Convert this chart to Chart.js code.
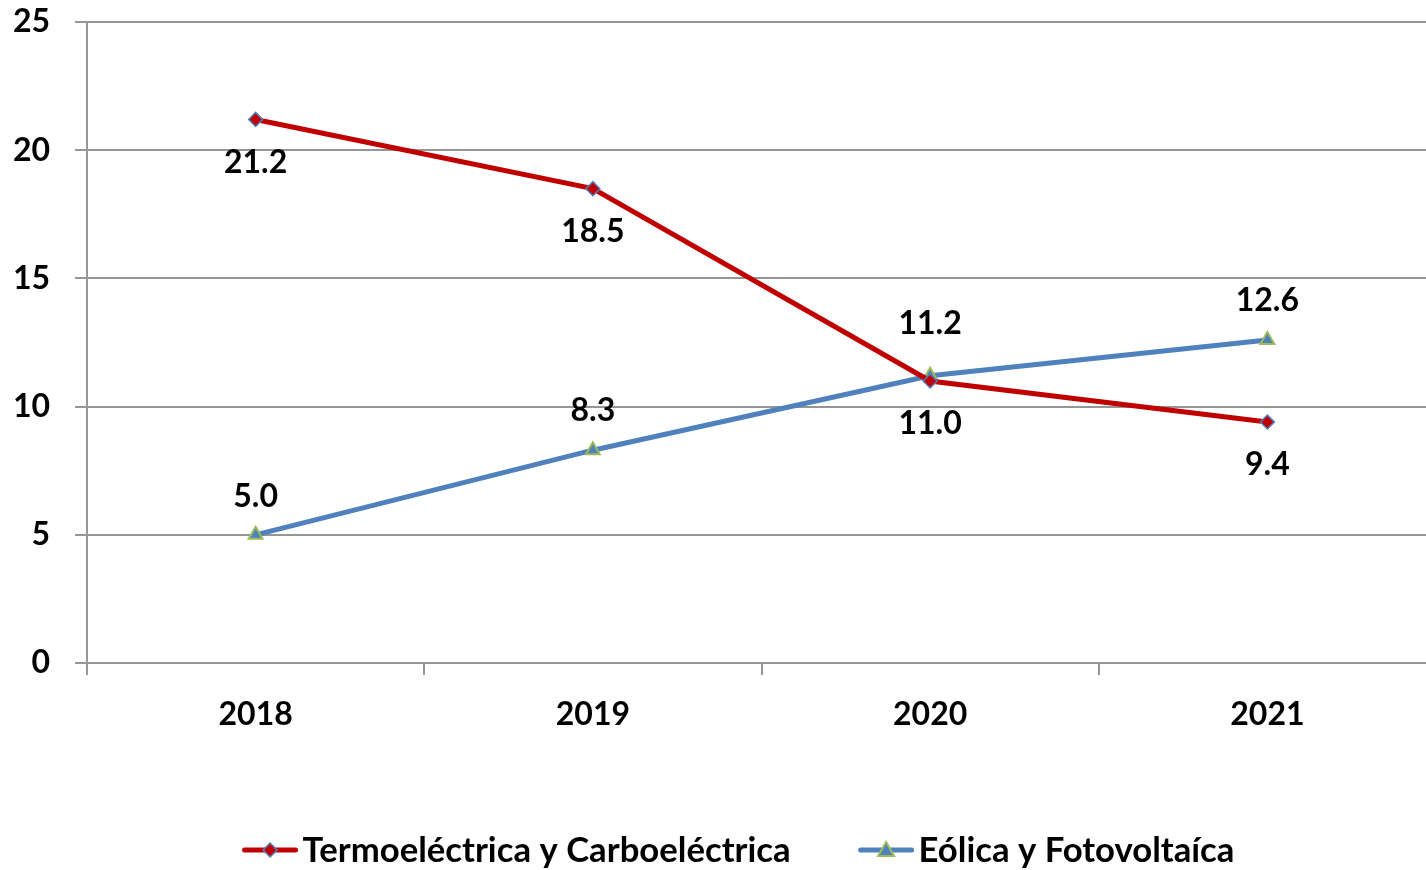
<!DOCTYPE html>
<html lang="es">
<head>
<meta charset="UTF-8">
<title>Generación eléctrica</title>
<script src="https://cdn.jsdelivr.net/npm/chart.js"></script>
<style>
    html, body { margin: 0; padding: 0; background: #fff; overflow: hidden; }
    .wrap { width: 1446px; height: 870px; }
</style>
</head>
<body>
<div class="wrap"><canvas id="chart" width="1446" height="870" style="width:1446px;height:870px"></canvas></div>
<script>
    const years = ['2018', '2019', '2020', '2021'];
    const termo = [21.2, 18.5, 11.0, 9.4];
    const eolica = [5.0, 8.3, 11.2, 12.6];
    const yTicks = [0, 5, 10, 15, 20, 25];

    const RED = '#C00000';
    const BLUE = '#4F81BD';
    const GREEN = '#9BBB59';
    const GRID = '#969696';
    const FONT = 'Lato, "Open Sans", sans-serif';

    function drawMarker(g, style, x, y, r, fill, stroke, lw) {
        g.save();
        g.fillStyle = fill;
        g.strokeStyle = stroke;
        g.lineWidth = lw;
        g.beginPath();
        if (style === 'rectRot') {
            g.moveTo(x, y - r); g.lineTo(x + r, y); g.lineTo(x, y + r); g.lineTo(x - r, y);
        } else {
            g.moveTo(x, y - r); g.lineTo(x + r, y + r * 0.75); g.lineTo(x - r, y + r * 0.75);
        }
        g.closePath(); g.fill(); g.stroke();
        g.restore();
    }

    // numbers next to each point
    const valueLabels = {
        id: 'valueLabels',
        afterDatasetsDraw(chart, args, opts) {
            const ctx = chart.ctx;
            ctx.save();
            ctx.font = 'bold 32px ' + FONT;
            ctx.fillStyle = '#000';
            ctx.textAlign = 'center';
            ctx.textBaseline = 'middle';
            chart.data.datasets.forEach((ds, i) => {
                const meta = chart.getDatasetMeta(i);
                meta.data.forEach((pt, j) => {
                    ctx.fillText(ds.data[j].toFixed(1), pt.x, pt.y + opts.offsets[i][j]);
                });
            });
            ctx.restore();
        }
    };

    // legend: line with the marker in the middle, then the label
    const lineLegend = {
        id: 'lineLegend',
        afterDraw(chart, args, opts) {
            const ctx = chart.ctx;
            ctx.save();
            ctx.font = 'bold 34.7px ' + FONT;
            ctx.textBaseline = 'middle';
            ctx.textAlign = 'left';
            const dsets = chart.data.datasets;
            const widths = dsets.map(ds => opts.lineLen + opts.textGap + ctx.measureText(ds.label).width);
            const total = widths.reduce((a, b) => a + b, 0) + opts.itemGap * (dsets.length - 1);
            let x = opts.centerX - total / 2;
            const y = opts.y;
            dsets.forEach((ds, i) => {
                ctx.strokeStyle = ds.borderColor;
                ctx.lineWidth = 5;
                ctx.lineCap = 'round';
                ctx.beginPath(); ctx.moveTo(x + 2, y); ctx.lineTo(x + opts.lineLen - 2, y); ctx.stroke();
                drawMarker(ctx, ds.pointStyle, x + opts.lineLen / 2, y, ds.pointRadius,
                    ds.pointBackgroundColor, ds.pointBorderColor, ds.pointBorderWidth);
                ctx.fillStyle = '#000';
                ctx.fillText(ds.label, x + opts.lineLen + opts.textGap, y + 1);
                x += widths[i] + opts.itemGap;
            });
            ctx.restore();
        }
    };

    new Chart(document.getElementById('chart'), {
        type: 'line',
        data: {
            labels: years,
            datasets: [
                {
                    label: 'Termoeléctrica y Carboeléctrica',
                    data: termo,
                    borderColor: RED,
                    backgroundColor: RED,
                    borderWidth: 5,
                    pointStyle: 'rectRot',
                    pointRadius: 7,
                    pointBackgroundColor: RED,
                    pointBorderColor: BLUE,
                    pointBorderWidth: 1.5
                },
                {
                    label: 'Eólica y Fotovoltaíca',
                    data: eolica,
                    borderColor: BLUE,
                    backgroundColor: BLUE,
                    borderWidth: 5,
                    pointStyle: 'triangle',
                    pointRadius: 8,
                    pointBackgroundColor: BLUE,
                    pointBorderColor: GREEN,
                    pointBorderWidth: 2
                }
            ]
        },
        options: {
            responsive: false,
            animation: false,
            layout: { padding: { left: 0, top: 22, right: 0, bottom: 97 } },
            plugins: {
                tooltip: { enabled: false },
                legend: { display: false },
                valueLabels: {
                    offsets: [[43, 43, 43, 43], [-38, -40, -52, -39]]
                },
                lineLegend: { centerX: 738.5, y: 850, lineLen: 55, textGap: 5, itemGap: 68 }
            },
            scales: {
                x: {
                    offset: true,
                    grid: {
                        offset: true,
                        drawOnChartArea: false,
                        color: GRID,
                        lineWidth: 2,
                        tickLength: 12
                    },
                    border: { color: GRID, width: 2 },
                    ticks: {
                        color: '#000',
                        padding: 20,
                        font: { family: FONT, size: 32, weight: 'bold' }
                    },
                    afterFit(scale) { scale.height = 110; }
                },
                y: {
                    min: 0,
                    max: 25,
                    afterBuildTicks(scale) {
                        scale.ticks = yTicks.map(v => ({ value: v }));
                    },
                    grid: {
                        color: GRID,
                        lineWidth: 2,
                        tickLength: 12
                    },
                    border: { color: GRID, width: 2 },
                    ticks: {
                        color: '#000',
                        padding: 25,
                        font: { family: FONT, size: 32, weight: 'bold' }
                    },
                    afterFit(scale) { scale.width = 87; scale.paddingTop = 0; scale.paddingBottom = 0; }
                }
            }
        },
        plugins: [valueLabels, lineLegend]
    });
</script>
</body>
</html>
